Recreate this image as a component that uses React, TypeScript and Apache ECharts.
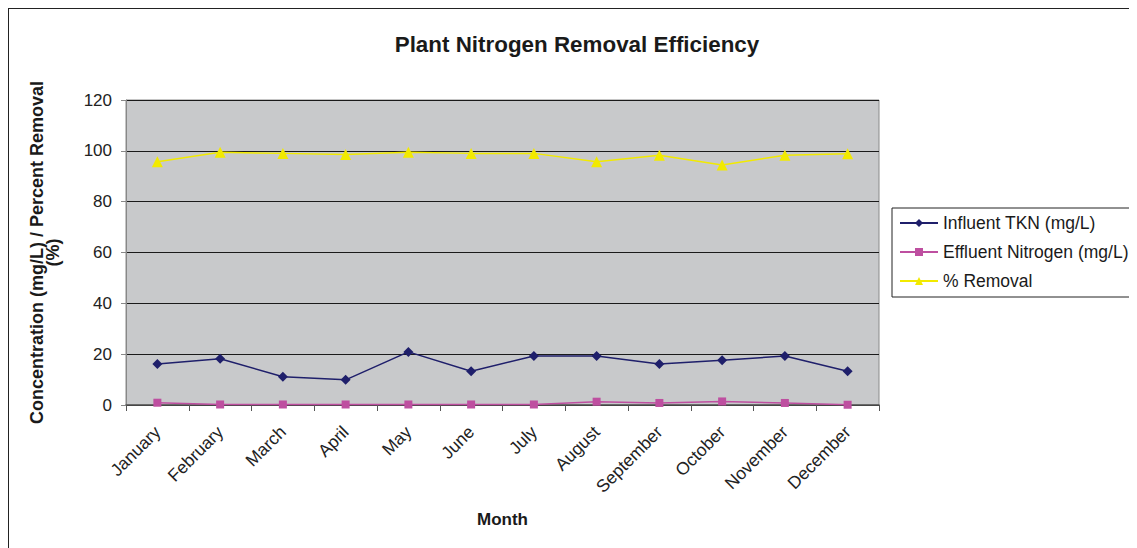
import React, { useEffect, useRef } from "react";
import * as echarts from "echarts";

const months = ["January","February","March","April","May","June","July","August","September","October","November","December"];
const influentTKN = [16.1, 18.2, 11.1, 9.9, 20.9, 13.3, 19.3, 19.3, 16.1, 17.6, 19.3, 13.3];
const effluentN = [0.9, 0.2, 0.2, 0.2, 0.2, 0.2, 0.2, 1.3, 0.8, 1.4, 0.8, 0.1];
const pctRemoval = [95.7, 99.4, 99.0, 98.6, 99.4, 99.0, 99.0, 95.7, 98.3, 94.4, 98.3, 98.9];
const yTicks = { min: 0, max: 120, interval: 20 };

export default function App() {
  const ref = useRef<HTMLDivElement>(null);
  useEffect(() => {
    if (!ref.current) return;
    const chart = echarts.init(ref.current, null, { renderer: "svg" });
    const font = "Arial, 'Liberation Sans', sans-serif";
    chart.setOption({
      animation: false,
      backgroundColor: "#ffffff",
      textStyle: { fontFamily: font },
      title: {
        text: "Plant Nitrogen Removal Efficiency",
        left: 563,
        textAlign: "center",
        top: 19,
        textStyle: { fontSize: 22.4, fontWeight: "bold", color: "#1a1a1a", fontFamily: font },
      },
      grid: {
        left: 117,
        top: 91,
        width: 753,
        height: 305,
        show: true,
        backgroundColor: "#C8C9CB",
        borderColor: "#8a8a8a",
        borderWidth: 1,
      },
      legend: {
        left: 883,
        top: 199,
        orient: "vertical",
        padding: [6, 8, 7, 7],
        itemGap: 11,
        itemWidth: 38,
        itemHeight: 10,
        borderColor: "#222",
        borderWidth: 1,
        textStyle: { fontSize: 17.5, color: "#1a1a1a", fontFamily: font },
        data: ["Influent TKN (mg/L)", "Effluent Nitrogen (mg/L)", "% Removal"],
      },
      xAxis: {
        type: "category",
        data: months,
        boundaryGap: true,
        name: "Month",
        nameLocation: "middle",
        nameGap: 106,
        nameTextStyle: { fontSize: 17, fontWeight: "bold", color: "#1a1a1a" },
        axisLine: { lineStyle: { color: "#555", width: 1.5 } },
        axisTick: { show: true, alignWithLabel: false, length: 6, lineStyle: { color: "#555" } },
        axisLabel: { rotate: 45, fontSize: 17.5, color: "#222", margin: 24, interval: 0 },
        splitLine: { show: false },
      },
      yAxis: {
        type: "value",
        min: yTicks.min,
        max: yTicks.max,
        interval: yTicks.interval,
        name: "Concentration (mg/L) / Percent Removal\n(%)",
        nameLocation: "middle",
        nameRotate: 90,
        nameGap: 65,
        nameTextStyle: { fontSize: 18, fontWeight: "bold", color: "#1a1a1a", lineHeight: 16 },
        axisLine: { show: true, lineStyle: { color: "#888", width: 1 } },
        axisTick: { show: true, length: 5, lineStyle: { color: "#888" } },
        axisLabel: { fontSize: 17, color: "#222", margin: 14 },
        splitLine: { show: true, lineStyle: { color: "#1a1a1a", width: 1 } },
      },
      series: [
        {
          name: "Influent TKN (mg/L)",
          type: "line",
          data: influentTKN,
          symbol: "diamond",
          symbolSize: 10,
          itemStyle: { color: "#1F1F6B" },
          lineStyle: { color: "#1F1F6B", width: 1.5 },
        },
        {
          name: "Effluent Nitrogen (mg/L)",
          type: "line",
          data: effluentN,
          symbol: "rect",
          symbolSize: 8,
          itemStyle: { color: "#BE4FA0" },
          lineStyle: { color: "#BE4FA0", width: 1.5 },
        },
        {
          name: "% Removal",
          type: "line",
          data: pctRemoval,
          symbol: "triangle",
          symbolSize: 11,
          itemStyle: { color: "#F2EA00" },
          lineStyle: { color: "#F2EA00", width: 1.5 },
        },
      ],
    });
    return () => chart.dispose();
  }, []);
  return (
    <div
      ref={ref}
      style={{
        width: 1128,
        height: 539,
        borderLeft: "1px solid #222",
        borderTop: "1px solid #222",
      }}
    />
  );
}
